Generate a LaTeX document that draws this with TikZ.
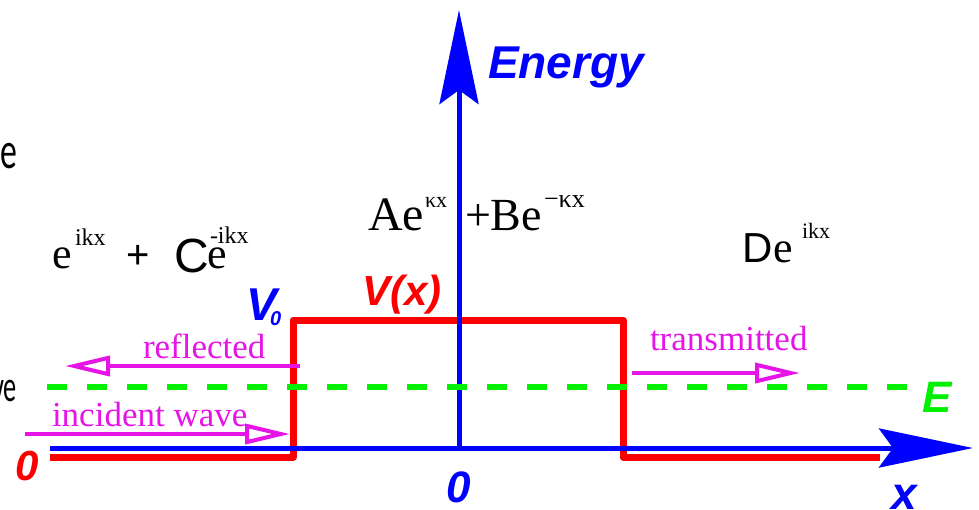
\documentclass[tikz,border=0pt]{standalone}
\usepackage{fontspec}
\setmainfont{Liberation Serif}
\setsansfont{Liberation Sans}
\newfontfamily\calib{Carlito}
\usetikzlibrary{arrows.meta}
\definecolor{axblue}{RGB}{0,0,255}
\definecolor{potred}{RGB}{250,0,0}
\definecolor{wavemag}{RGB}{230,20,230}
\definecolor{engreen}{RGB}{0,240,0}
\newcommand{\fs}[1]{\fontsize{#1}{#1}\selectfont}
\tikzset{
  lbl/.style={inner sep=0pt, outer sep=0pt, anchor=base west},
  axis/.style={axblue, line width=5pt, -{Stealth[length=94pt,width=39pt,inset=14pt]}},
  pot/.style={potred, line width=7pt, line join=round},
  level/.style={engreen, line width=6pt, dash pattern=on 20pt off 20pt},
  wave/.style={wavemag, line width=4pt, -{Triangle[open,length=45pt,width=20pt,fill=white]}},
  bsi/.style={lbl, font=\sffamily\bfseries\itshape},
}
\begin{document}
\begin{tikzpicture}[x=1pt,y=-1pt]
\useasboundingbox (0,0) rectangle (979,509);
\clip (0,0) rectangle (979,509);
% coordinates
\coordinate (p0) at (50,457);
\coordinate (p1) at (293,457);
\coordinate (p2) at (293,320);
\coordinate (p3) at (623,320);
\coordinate (p4) at (623,457);
\coordinate (p5) at (880,457);
\coordinate (xs) at (50,448);
\coordinate (xe) at (973,448);
\coordinate (ys) at (459,448);
\coordinate (ye) at (459,10);
\coordinate (es) at (47,387);
\coordinate (ee) at (910,387);
\coordinate (rs) at (300,366);
\coordinate (re) at (65,366);
\coordinate (is) at (25,434);
\coordinate (ie) at (290,434);
\coordinate (ts) at (632,373);
\coordinate (te) at (800,373);
% potential
\draw[pot] (p0) -- (p1) -- (p2) -- (p3) -- (p4) -- (p5);
% axes
\draw[axis] (xs) -- (xe);
\draw[axis] (ys) -- (ye);
% energy level
\draw[level] (es) -- (ee);
% waves
\draw[wave] (rs) -- (re);
\draw[wave] (is) -- (ie);
\draw[wave] (ts) -- (te);
% labels
\node[bsi, text=axblue, font=\sffamily\bfseries\itshape\fs{46}] (energy) at (488,78) {Energy};
\node[bsi, text=potred, font=\sffamily\bfseries\itshape\fs{42}] (vx) at (362,305) {V(x)};
\node[bsi, text=axblue, font=\sffamily\bfseries\itshape\fs{46}] (v0) at (246,320) {V};
\node[bsi, text=axblue, font=\sffamily\bfseries\itshape\fs{20}] (v0s) at (270,325) {0};
\node[bsi, text=engreen, font=\sffamily\bfseries\itshape\fs{44}] (elbl) at (922,412) {E};
\node[bsi, text=potred, font=\sffamily\bfseries\itshape\fs{42}] (zr) at (16,480) {0};
\node[bsi, text=axblue, font=\sffamily\bfseries\itshape\fs{44}] (zb) at (446,502) {0};
\node[bsi, text=axblue, font=\sffamily\bfseries\itshape\fs{46}] (xl) at (891,509) {x};
\node[lbl, text=wavemag, font=\fs{35}] (refl) at (143,358) {reflected};
\node[lbl, text=wavemag, font=\fs{35}] (inc) at (52,426) {incident wave};
\node[lbl, text=wavemag, font=\fs{35}] (trans) at (650,350) {transmitted};
% wave functions
\node[lbl, font=\fs{44}] (w1e) at (52,268) {e};
\node[lbl, font=\fs{24}] (w1s) at (75,245) {ikx};
\node[lbl, font=\sffamily\fs{40}] (w1p) at (126,268) {+};
\node[lbl, font=\sffamily\fs{48}] (w1c) at (174,272) {C};
\node[lbl, font=\fs{44}] (w1e2) at (207,268) {e};
\node[lbl, font=\fs{24}] (w1s2) at (210,243) {-ikx};
\node[lbl, font=\fs{48}] (w2a) at (368,230) {Ae};
\node[lbl, font=\fs{22}] (w2as) at (425,207) {κx};
\node[lbl, font=\fs{46}] (w2b) at (465,230) {+Be};
\node[lbl, font=\fs{26}] (w2bs) at (544,207) {−κx};
\node[lbl, font=\sffamily\fs{42}] (w3d) at (742,262) {D};
\node[lbl, font=\fs{44}] (w3e) at (773,262) {e};
\node[lbl, font=\fs{22}] (w3s) at (802,238) {ikx};
% clipped fragments at left edge
\node[inner sep=0pt, anchor=base east, font=\calib\fs{52}, xscale=0.65] (frag1) at (17,168) {e};
\node[inner sep=0pt, anchor=base east, font=\calib\fs{44}, xscale=0.6] (frag2) at (17,401) {ve};
\end{tikzpicture}
\end{document}
